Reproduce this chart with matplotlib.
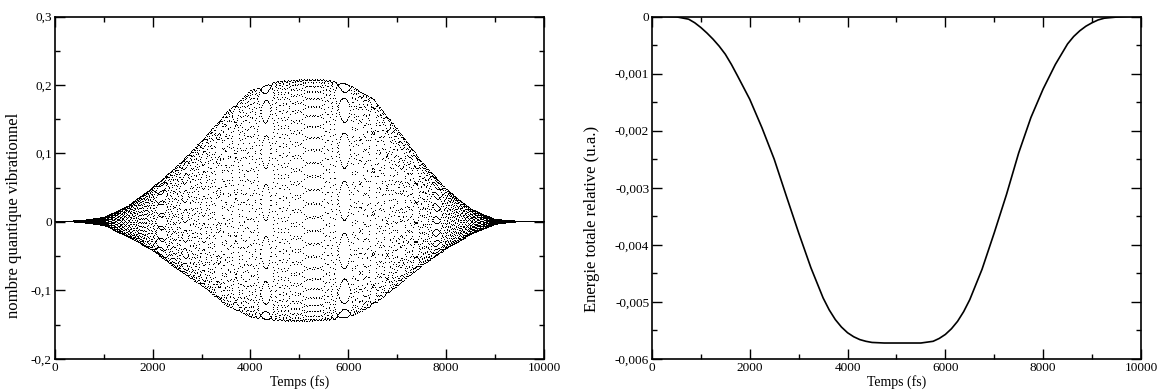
import matplotlib
matplotlib.use("Agg")
import matplotlib.pyplot as plt
import numpy as np
from matplotlib.ticker import MultipleLocator

plt.rcParams['font.family'] = ['Liberation Serif', 'DejaVu Serif']
plt.rcParams['font.size'] = 9.5

# --- panneau gauche : enveloppe (nombre quantique vibrationnel)
t_env = [0, 500, 1000, 1500, 2000, 2500, 3000, 3500, 4000, 4500, 5000,
         5500, 6000, 6500, 7000, 7500, 8000, 8500, 9000, 9500, 10000]
v_haut = [0.0, 0.001, 0.006, 0.023, 0.050, 0.081, 0.118, 0.159, 0.191, 0.204, 0.207,
          0.207, 0.200, 0.179, 0.135, 0.086, 0.047, 0.018, 0.003, 0.0, 0.0]
v_bas = [0.0, -0.001, -0.006, -0.023, -0.043, -0.070, -0.094, -0.123, -0.140, -0.145, -0.146,
         -0.145, -0.140, -0.123, -0.094, -0.065, -0.040, -0.019, -0.004, 0.0, 0.0]

# --- panneau droit : energie totale relative (u.a.)
t_e = [0, 250, 500, 750, 875, 1000, 1125, 1250, 1375, 1500, 1625, 1750, 2000, 2250,
       2500, 2750, 3000, 3250, 3500, 3625, 3750, 3875, 4000, 4125, 4250, 4375, 4500,
       4750, 5000, 5250, 5500, 5750, 5875, 6000, 6125, 6250, 6375, 6500, 6750, 7000,
       7250, 7500, 7750, 8000, 8250, 8500, 8625, 8750, 8875, 9000, 9125, 9250, 9500,
       9750, 10000]
energie = [0.0, 0.0, -0.000006, -0.000047, -0.00011, -0.000193, -0.00029, -0.000398,
           -0.00052, -0.000661, -0.00084, -0.00104, -0.00145, -0.00195, -0.00250,
           -0.00315, -0.00379, -0.00440, -0.00493, -0.00514, -0.00531, -0.00544,
           -0.00554, -0.00561, -0.00566, -0.00569, -0.00571, -0.00572, -0.00572,
           -0.00572, -0.00572, -0.00569, -0.00564, -0.00557, -0.00547, -0.00534,
           -0.00517, -0.00496, -0.00443, -0.00379, -0.00312, -0.00239, -0.00177,
           -0.00127, -0.00084, -0.00048, -0.00035, -0.00025, -0.00017, -0.00011,
           -0.00006, -0.00003, -0.00001, 0.0, 0.0]

yticks_g = [-0.2, -0.1, 0, 0.1, 0.2, 0.3]
ylabels_g = ['-0,2', '-0,1', '0', '0,1', '0,2', '0,3']
yticks_d = [-0.006, -0.005, -0.004, -0.003, -0.002, -0.001, 0]
ylabels_d = ['-0,006', '-0,005', '-0,004', '-0,003', '-0,002', '-0,001', '0']
xticks = [0, 2000, 4000, 6000, 8000, 10000]

# signal echantillonne (pas de 1 fs) entre les deux enveloppes
t = np.arange(0, 10001, 1.0)
haut = np.interp(t, t_env, v_haut)
bas = np.interp(t, t_env, v_bas)
milieu = (haut + bas) / 2
ampl = (haut - bas) / 2
s = ampl / ampl.max()
freq = 0.0503 + 0.0225 * s**2
phase = 2 * np.pi * np.cumsum(freq)
v = milieu + ampl * np.cos(phase)

fig = plt.figure(figsize=(11.57, 3.92), dpi=100)
ax1 = fig.add_axes([0.0473, 0.0842, 0.4229, 0.8737])
ax2 = fig.add_axes([0.5635, 0.0842, 0.4226, 0.8737])

ax1.plot(t, v, ',', color='black')
ax1.set_xlim(0, 10000)
ax1.set_ylim(-0.2, 0.3)
ax1.set_yticks(yticks_g)
ax1.set_yticklabels(ylabels_g)
ax1.yaxis.set_minor_locator(MultipleLocator(0.05))
ax1.set_ylabel('nombre quantique vibrationnel', fontsize=12)
ax1.yaxis.set_label_coords(-0.067, 0.42)

ax2.plot(t_e, energie, color='black', linewidth=1.2)
ax2.set_xlim(0, 10000)
ax2.set_ylim(-0.006, 0)
ax2.set_yticks(yticks_d)
ax2.set_yticklabels(ylabels_d)
ax2.yaxis.set_minor_locator(MultipleLocator(0.0005))
ax2.set_ylabel('Energie totale relative (u.a.)', fontsize=12)
ax2.yaxis.set_label_coords(-0.106, 0.41)

for ax in (ax1, ax2):
    ax.set_xticks(xticks)
    ax.set_xticklabels([str(x) for x in xticks])
    ax.xaxis.set_minor_locator(MultipleLocator(1000))
    ax.set_xlabel('Temps (fs)', fontsize=10, labelpad=1)
    ax.tick_params(which='both', direction='in', top=True, right=True, width=1, pad=2)
    ax.tick_params(which='major', length=7)
    ax.tick_params(which='minor', length=3.5)
    for sp in ax.spines.values():
        sp.set_linewidth(1.2)

fig.savefig('out.png', dpi=100)
